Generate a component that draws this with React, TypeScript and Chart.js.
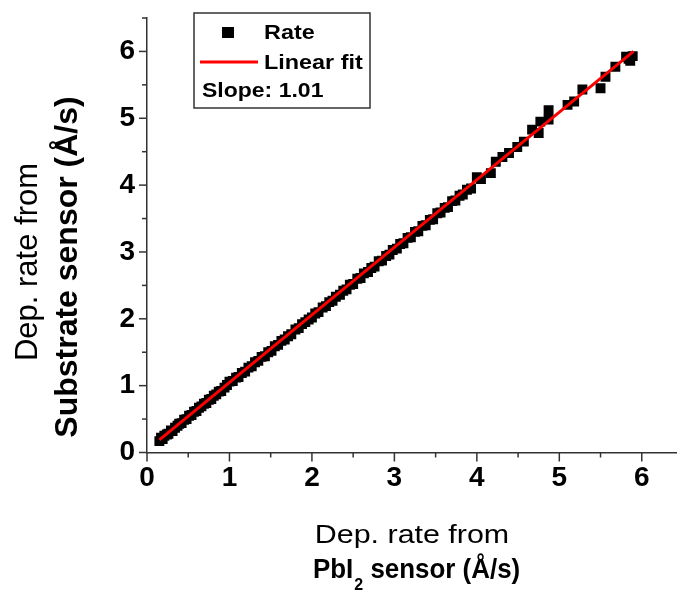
import React, { useEffect, useRef } from 'react';
import { Chart, registerables } from 'chart.js';

Chart.register(...registerables);

// ---- data ----
const rateX = [
  0.15, 0.17, 0.19, 0.21, 0.24, 0.26, 0.29, 0.31, 0.34, 0.37, 0.39, 0.42, 0.45, 0.48, 0.51, 0.54,
  0.57, 0.60, 0.63, 0.66, 0.69, 0.72, 0.75, 0.78, 0.81, 0.84, 0.87, 0.90, 0.94, 0.97, 1.00, 1.04,
  1.08, 1.11, 1.15, 1.19, 1.23, 1.27, 1.31, 1.35, 1.39, 1.43, 1.47, 1.51, 1.55, 1.59, 1.63, 1.67,
  1.71, 1.75, 1.80, 1.84, 1.88, 1.92, 1.96, 2.00, 2.04, 2.08, 2.13, 2.17, 2.21, 2.25, 2.29, 2.34,
  2.38, 2.42, 2.46, 2.50, 2.55, 2.59, 2.63, 2.68, 2.72, 2.76, 2.81, 2.85, 2.90, 2.94, 2.98, 3.03,
  3.07, 3.11, 3.16, 3.20, 3.25, 3.29, 3.34, 3.38, 3.43, 3.47, 3.52, 3.56, 3.61, 3.65, 3.70, 3.74,
  3.79, 3.83, 3.88, 3.93, 4.00, 4.05, 4.17, 4.23, 4.31, 4.39, 4.49, 4.57, 4.67, 4.75, 4.77, 4.87,
  4.87, 5.10, 5.18, 5.28, 5.50, 5.56, 5.68, 5.81, 5.86, 5.89, 5.84,
];
const rateY = [
  0.17, 0.22, 0.20, 0.25, 0.27, 0.28, 0.33, 0.32, 0.37, 0.40, 0.43, 0.44, 0.49, 0.50, 0.55, 0.56,
  0.61, 0.62, 0.67, 0.69, 0.73, 0.74, 0.79, 0.80, 0.85, 0.87, 0.91, 0.92, 0.97, 1.01, 1.06, 1.07,
  1.12, 1.13, 1.19, 1.21, 1.27, 1.29, 1.35, 1.37, 1.43, 1.44, 1.50, 1.52, 1.59, 1.61, 1.67, 1.69,
  1.74, 1.77, 1.84, 1.86, 1.92, 1.95, 1.99, 2.02, 2.08, 2.10, 2.17, 2.19, 2.25, 2.27, 2.33, 2.36,
  2.42, 2.44, 2.51, 2.52, 2.60, 2.61, 2.68, 2.70, 2.76, 2.78, 2.86, 2.87, 2.94, 2.96, 3.03, 3.05,
  3.12, 3.13, 3.21, 3.22, 3.30, 3.31, 3.39, 3.40, 3.48, 3.49, 3.58, 3.59, 3.66, 3.67, 3.76, 3.77,
  3.84, 3.86, 3.93, 3.95, 4.12, 4.09, 4.18, 4.35, 4.42, 4.48, 4.57, 4.65, 4.83, 4.78, 4.95, 4.98,
  5.12, 5.20, 5.25, 5.43, 5.45, 5.62, 5.77, 5.92, 5.86, 5.93, 5.89,
];
const fitX = [0.15, 5.9];
const fitY = [0.19, 6.0];

const axisTicks = [0, 0.5, 1, 1.5, 2, 2.5, 3, 3.5, 4, 4.5, 5, 5.5, 6, 6.5];
const axisMin = 0;
const axisMax = 6.5;

const seriesNames = ['Rate', 'Linear fit'];
const slopeText = 'Slope: 1.01';
const xTitleLine1 = 'Dep. rate from';
const xTitleParts = ['PbI', '2', ' sensor (Å/s)'];
const yTitleLine1 = 'Dep. rate from';
const yTitleLine2 = 'Substrate sensor (Å/s)';

const AXIS_COLOR = '#333333';

function drawStretched(ctx: CanvasRenderingContext2D, text: string, x: number, y: number, font: string, sx: number, align: CanvasTextAlign) {
  ctx.save();
  ctx.font = font;
  ctx.textAlign = align;
  ctx.textBaseline = 'alphabetic';
  ctx.translate(x, y);
  ctx.scale(sx, 1);
  ctx.fillText(text, 0, 0);
  ctx.restore();
}

const decorPlugin = {
  id: 'decor',
  afterDraw(chart: any) {
    const ctx: CanvasRenderingContext2D = chart.ctx;
    const xs = chart.scales.x;
    const ys = chart.scales.y;
    const area = chart.chartArea;
    ctx.save();
    // tick marks
    ctx.strokeStyle = AXIS_COLOR;
    ctx.lineWidth = 1.5;
    axisTicks.forEach((v) => {
      const major = Number.isInteger(v);
      const len = major ? 9 : 5;
      const px = xs.getPixelForValue(v);
      ctx.beginPath();
      ctx.moveTo(px, area.bottom);
      ctx.lineTo(px, area.bottom + len);
      ctx.stroke();
      const py = ys.getPixelForValue(v);
      ctx.beginPath();
      ctx.moveTo(area.left, py);
      ctx.lineTo(area.left - (major ? 8 : 5), py);
      ctx.stroke();
    });

    // legend box
    ctx.fillStyle = '#ffffff';
    ctx.fillRect(194, 13, 176, 95);
    ctx.strokeStyle = '#333333';
    ctx.lineWidth = 1.5;
    ctx.strokeRect(194, 13, 176, 95);
    ctx.fillStyle = '#000000';
    ctx.fillRect(222, 27, 12, 11);
    ctx.strokeStyle = '#ff0000';
    ctx.lineWidth = 3;
    ctx.beginPath();
    ctx.moveTo(200, 62);
    ctx.lineTo(258, 62);
    ctx.stroke();
    ctx.fillStyle = '#000000';
    const lf = 'bold 20px "Liberation Sans", Arial, sans-serif';
    drawStretched(ctx, seriesNames[0], 264, 39, lf, 1.17, 'left');
    drawStretched(ctx, seriesNames[1], 264, 69, lf, 1.17, 'left');
    drawStretched(ctx, slopeText, 202, 97, lf, 1.15, 'left');

    // x title
    drawStretched(ctx, xTitleLine1, 412, 543, '26px "Liberation Sans", Arial, sans-serif', 1.17, 'center');
    const sx2 = 0.96;
    let cx = 313;
    const bf = 'bold 27px "Liberation Sans", Arial, sans-serif';
    drawStretched(ctx, xTitleParts[0], cx, 578, bf, sx2, 'left');
    ctx.font = bf;
    cx += ctx.measureText(xTitleParts[0]).width * sx2 + 1;
    const sf = 'bold 16px "Liberation Sans", Arial, sans-serif';
    drawStretched(ctx, xTitleParts[1], cx, 590, sf, 1, 'left');
    ctx.font = sf;
    cx += ctx.measureText(xTitleParts[1]).width;
    drawStretched(ctx, xTitleParts[2], cx, 578, bf, sx2, 'left');

    // y title (rotated)
    ctx.save();
    ctx.translate(37, 262);
    ctx.rotate(-Math.PI / 2);
    ctx.font = '31px "Liberation Sans", Arial, sans-serif';
    ctx.textAlign = 'center';
    ctx.textBaseline = 'alphabetic';
    ctx.fillText(yTitleLine1, 0, 0);
    ctx.restore();
    ctx.save();
    ctx.translate(77, 267);
    ctx.rotate(-Math.PI / 2);
    ctx.font = 'bold 32px "Liberation Sans", Arial, sans-serif';
    ctx.textAlign = 'center';
    ctx.textBaseline = 'alphabetic';
    ctx.fillText(yTitleLine2, 0, 0);
    ctx.restore();

    ctx.restore();
  },
};

export default function App() {
  const ref = useRef<HTMLCanvasElement | null>(null);
  useEffect(() => {
    if (!ref.current) return;
    const tickFont = { family: '"Liberation Sans", Arial, sans-serif', size: 28, weight: 'bold' as const };
    const setTicks = (scale: any) => {
      scale.ticks = axisTicks.map((v) => ({ value: v }));
    };
    const chart = new Chart(ref.current, {
      type: 'scatter',
      data: {
        datasets: [
          {
            label: seriesNames[0],
            data: rateX.map((x, i) => ({ x, y: rateY[i] })),
            pointStyle: 'rect',
            pointRadius: 7,
            pointBorderWidth: 0,
            backgroundColor: '#000000',
            borderColor: '#000000',
            order: 2,
          },
          {
            label: seriesNames[1],
            data: fitX.map((x, i) => ({ x, y: fitY[i] })),
            showLine: true,
            borderColor: '#ff0000',
            borderWidth: 3,
            pointRadius: 0,
            fill: false,
            order: 1,
          } as any,
        ],
      },
      options: {
        responsive: false,
        animation: false,
        layout: { padding: { top: 18, left: 0, right: 0, bottom: 0 } },
        plugins: { legend: { display: false }, tooltip: { enabled: false } },
        scales: {
          x: {
            type: 'linear',
            min: axisMin,
            max: axisMax,
            grid: { display: false, drawTicks: false, tickLength: 0 },
            border: { display: true, color: AXIS_COLOR, width: 1.5 },
            ticks: {
              autoSkip: false,
              maxRotation: 0,
              padding: 9,
              color: '#000000',
              font: tickFont,
              callback: (v: any) => (Number.isInteger(v) ? String(v) : ''),
            },
            afterBuildTicks: setTicks,
            afterFit: (s: any) => {
              s.height = 140.5;
              s.paddingLeft = 0;
              s.paddingRight = 0;
            },
          },
          y: {
            type: 'linear',
            min: axisMin,
            max: axisMax,
            grid: { display: false, drawTicks: false, tickLength: 0 },
            border: { display: true, color: AXIS_COLOR, width: 1.5 },
            ticks: {
              autoSkip: false,
              padding: 12,
              color: '#000000',
              font: tickFont,
              callback: (v: any) => (Number.isInteger(v) ? String(v) : ''),
            },
            afterBuildTicks: setTicks,
            afterFit: (s: any) => {
              s.width = 147;
              s.paddingTop = 0;
              s.paddingBottom = 0;
            },
          },
        },
      },
      plugins: [decorPlugin],
    });
    return () => chart.destroy();
  }, []);
  return (
    <div style={{ position: 'fixed', left: 0, top: 0, width: 677, height: 593, overflow: 'hidden', background: '#fff' }}>
      <canvas ref={ref} width={690} height={593} style={{ display: 'block' }} />
    </div>
  );
}
